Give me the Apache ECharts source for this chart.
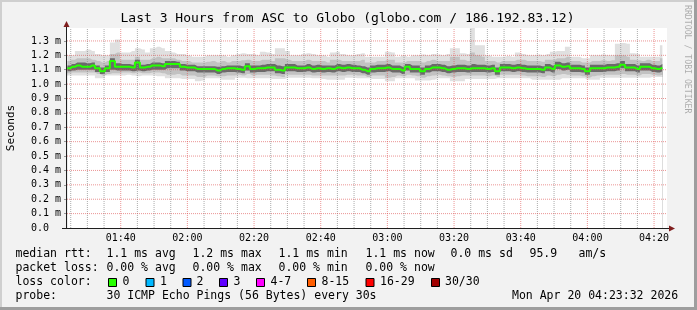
<!DOCTYPE html>
<html><head><meta charset="utf-8">
<script src="https://cdn.jsdelivr.net/npm/echarts@6/dist/echarts.min.js"></script>
<style>html,body{margin:0;padding:0;background:#f2f2f2}#c{width:697px;height:310px}</style>
</head><body><div id="c"></div><script>
// sample times: seconds after midnight, first sample 01:24:00, one every 90 s
const startSec = 5040, stepSec = 90;
const axisStartSec = 5033, axisSpanSec = 10800;
const yMax = 1.39;

const median = [1.11,1.12,1.13,1.12,1.12,1.13,1.11,1.09,1.11,1.16,
 1.12,1.12,1.12,1.115,1.15,1.115,1.12,1.13,1.13,1.125,
 1.14,1.14,1.14,1.12,1.115,1.115,1.105,1.105,1.105,1.105,
 1.095,1.105,1.11,1.11,1.105,1.10,1.125,1.105,1.11,1.11,
 1.115,1.115,1.10,1.095,1.115,1.115,1.11,1.11,1.115,1.105,
 1.11,1.105,1.11,1.105,1.115,1.11,1.115,1.11,1.11,1.10,
 1.09,1.105,1.11,1.11,1.115,1.105,1.105,1.095,1.12,1.105,
 1.105,1.09,1.105,1.115,1.115,1.11,1.10,1.105,1.11,1.11,
 1.105,1.11,1.11,1.11,1.105,1.11,1.09,1.115,1.115,1.11,
 1.115,1.11,1.105,1.105,1.105,1.10,1.115,1.105,1.13,1.12,
 1.125,1.11,1.11,1.105,1.09,1.11,1.11,1.11,1.115,1.115,
 1.12,1.135,1.115,1.115,1.105,1.12,1.12,1.11,1.105,1.115];

const hiOuter = [1.20,1.20,1.23,1.23,1.24,1.23,1.21,1.20,1.20,1.29,
 1.31,1.22,1.22,1.23,1.25,1.24,1.22,1.25,1.26,1.25,
 1.23,1.22,1.21,1.21,1.20,1.19,1.19,1.19,1.20,1.20,
 1.20,1.20,1.19,1.20,1.21,1.215,1.21,1.21,1.20,1.225,
 1.22,1.21,1.25,1.25,1.23,1.20,1.20,1.21,1.215,1.21,
 1.20,1.20,1.19,1.22,1.225,1.21,1.20,1.20,1.21,1.215,
 1.19,1.19,1.19,1.19,1.225,1.22,1.19,1.20,1.19,1.20,
 1.20,1.205,1.20,1.21,1.205,1.20,1.21,1.25,1.25,1.215,
 1.21,1.39,1.27,1.27,1.20,1.19,1.19,1.19,1.195,1.19,
 1.22,1.21,1.20,1.20,1.205,1.20,1.21,1.225,1.23,1.23,
 1.26,1.19,1.19,1.18,1.18,1.20,1.20,1.205,1.20,1.20,
 1.28,1.285,1.28,1.215,1.21,1.19,1.19,1.19,1.19,1.27];

const loOuter = [1.06,1.06,1.06,1.06,1.06,1.06,1.04,1.04,1.06,1.06,
 1.06,1.06,1.065,1.06,1.055,1.06,1.06,1.06,1.055,1.055,
 1.04,1.04,1.04,1.035,1.035,1.035,1.02,1.025,1.04,1.04,
 1.04,1.03,1.03,1.03,1.045,1.045,1.04,1.04,1.04,1.04,
 1.04,1.035,1.035,1.035,1.045,1.045,1.045,1.045,1.045,1.04,
 1.04,1.035,1.03,1.03,1.03,1.03,1.045,1.045,1.04,1.04,
 1.04,1.035,1.035,1.035,1.02,1.02,1.04,1.04,1.04,1.04,
 1.025,1.025,1.025,1.03,1.04,1.04,1.04,1.02,1.02,1.02,
 1.035,1.035,1.035,1.035,1.035,1.035,1.04,1.04,1.04,1.04,
 1.04,1.04,1.04,1.03,1.03,1.03,1.03,1.03,1.03,1.04,
 1.04,1.04,1.04,1.04,1.03,1.03,1.03,1.045,1.045,1.045,
 1.045,1.045,1.045,1.045,1.045,1.045,1.045,1.05,1.05,1.05];

const hiMid = [1.16,1.17,1.18,1.18,1.18,1.17,1.16,1.15,1.16,1.21,
 1.22,1.17,1.17,1.17,1.19,1.17,1.17,1.18,1.19,1.18,
 1.18,1.18,1.17,1.16,1.16,1.15,1.15,1.15,1.155,1.16,
 1.15,1.16,1.15,1.16,1.16,1.165,1.17,1.16,1.16,1.17,
 1.17,1.16,1.18,1.18,1.17,1.16,1.16,1.16,1.17,1.16,
 1.16,1.16,1.15,1.17,1.17,1.16,1.16,1.16,1.16,1.17,
 1.15,1.15,1.16,1.16,1.17,1.17,1.15,1.15,1.16,1.16,
 1.16,1.15,1.16,1.17,1.16,1.16,1.16,1.19,1.19,1.17,
 1.16,1.22,1.20,1.19,1.16,1.16,1.15,1.16,1.16,1.16,
 1.17,1.17,1.16,1.16,1.16,1.155,1.17,1.17,1.18,1.18,
 1.19,1.16,1.16,1.15,1.15,1.16,1.16,1.165,1.16,1.165,
 1.20,1.20,1.19,1.17,1.165,1.16,1.17,1.16,1.16,1.18];

const loMid = [1.075,1.08,1.08,1.08,1.08,1.08,1.07,1.06,1.07,1.075,
 1.075,1.08,1.08,1.075,1.08,1.075,1.075,1.08,1.08,1.075,
 1.065,1.065,1.07,1.06,1.06,1.06,1.05,1.05,1.06,1.06,
 1.055,1.055,1.06,1.06,1.065,1.06,1.07,1.06,1.065,1.065,
 1.065,1.06,1.055,1.05,1.065,1.065,1.065,1.065,1.065,1.06,
 1.06,1.06,1.06,1.06,1.06,1.06,1.065,1.065,1.06,1.06,
 1.05,1.06,1.06,1.06,1.045,1.05,1.06,1.055,1.065,1.06,
 1.055,1.045,1.055,1.06,1.065,1.06,1.055,1.05,1.055,1.06,
 1.06,1.06,1.06,1.06,1.055,1.06,1.05,1.065,1.065,1.065,
 1.065,1.06,1.055,1.055,1.055,1.05,1.06,1.055,1.065,1.07,
 1.065,1.06,1.06,1.055,1.045,1.055,1.06,1.065,1.065,1.065,
 1.065,1.07,1.065,1.065,1.06,1.07,1.07,1.065,1.06,1.065];

const hiCore = [1.13,1.14,1.15,1.15,1.145,1.15,1.13,1.115,1.13,1.18,
 1.145,1.14,1.14,1.135,1.17,1.135,1.14,1.15,1.15,1.145,
 1.16,1.16,1.155,1.14,1.135,1.135,1.125,1.125,1.125,1.125,
 1.12,1.125,1.13,1.13,1.13,1.125,1.145,1.13,1.13,1.135,
 1.14,1.14,1.13,1.125,1.14,1.14,1.13,1.13,1.14,1.13,
 1.135,1.13,1.13,1.13,1.14,1.135,1.14,1.135,1.13,1.125,
 1.115,1.13,1.135,1.135,1.14,1.13,1.13,1.12,1.14,1.13,
 1.13,1.115,1.13,1.14,1.14,1.135,1.125,1.13,1.135,1.135,
 1.13,1.14,1.135,1.135,1.13,1.135,1.115,1.14,1.14,1.135,
 1.14,1.135,1.13,1.13,1.13,1.125,1.14,1.13,1.155,1.145,
 1.15,1.135,1.135,1.13,1.115,1.135,1.135,1.135,1.14,1.14,
 1.145,1.16,1.14,1.14,1.13,1.145,1.145,1.135,1.13,1.14];

const loCore = [1.09,1.095,1.10,1.10,1.10,1.10,1.085,1.07,1.085,1.10,
 1.095,1.095,1.095,1.09,1.095,1.09,1.095,1.10,1.10,1.10,
 1.11,1.11,1.11,1.095,1.09,1.09,1.08,1.08,1.08,1.08,
 1.07,1.08,1.085,1.085,1.08,1.075,1.095,1.08,1.085,1.085,
 1.09,1.09,1.075,1.07,1.09,1.09,1.085,1.085,1.09,1.08,
 1.085,1.08,1.085,1.08,1.09,1.085,1.09,1.085,1.085,1.075,
 1.065,1.08,1.085,1.085,1.09,1.08,1.08,1.07,1.095,1.08,
 1.08,1.065,1.08,1.09,1.09,1.085,1.075,1.08,1.085,1.085,
 1.08,1.085,1.085,1.085,1.08,1.085,1.065,1.09,1.09,1.085,
 1.09,1.085,1.08,1.08,1.08,1.075,1.09,1.08,1.105,1.095,
 1.10,1.085,1.085,1.08,1.065,1.085,1.085,1.085,1.09,1.09,
 1.095,1.11,1.09,1.09,1.08,1.095,1.095,1.085,1.08,1.09];

const yTicks = [0,0.1,0.2,0.3,0.4,0.5,0.6,0.7,0.8,0.9,1.0,1.1,1.2,1.3];
const xMajorLabels = ['01:40','02:00','02:20','02:40','03:00','03:20','03:40','04:00','04:20'];
const minorStepSec = 300;

const titleText = 'Last 3 Hours from ASC to Globo (globo.com / 186.192.83.12)';
const rttRow = ['median rtt:', '1.1 ms avg', '1.2 ms max', '1.1 ms min', '1.1 ms now', '0.0 ms sd', '95.9', 'am/s'];
const lossRow = ['packet loss:', '0.00 % avg', '0.00 % max', '0.00 % min', '0.00 % now'];
const lossLabels = ['0', '1', '2', '3', '4-7', '8-15', '16-29', '30/30'];
const lossColors = ['#26ff00', '#00b8ff', '#0059ff', '#5e00ff', '#ff00ff', '#ff5e00', '#ff0000', '#a10000'];
const probeText = '30 ICMP Echo Pings (56 Bytes) every 30s';
const stampText = 'Mon Apr 20 04:23:32 2026';
const watermark = 'RRDTOOL / TOBI OETIKER';

// ---- build ----
const toSec = s => { const p = s.split(':'); return (+p[0]) * 3600 + (+p[1]) * 60; };
const fmt = v => { const h = Math.floor(v / 3600), m = Math.round((v % 3600) / 60); return String(h).padStart(2, '0') + ':' + String(m).padStart(2, '0'); };
const times = median.map((_, i) => startSec + i * stepSec);
const pair = arr => arr.map((v, i) => [times[i], v]);
const majorSec = xMajorLabels.map(toSec);
const axisEndSec = axisStartSec + axisSpanSec;
const minorSec = [];
for (let t = Math.ceil(axisStartSec / minorStepSec) * minorStepSec; t < axisEndSec; t += minorStepSec) minorSec.push(t);

const MONO = '"DejaVu Sans Mono", monospace';
const areaSeries = (arr, color, z) => ({
  type: 'line', data: pair(arr), step: 'middle', showSymbol: false, silent: true, z: z,
  lineStyle: { width: 0, opacity: 0 }, areaStyle: { color: color, opacity: 1 }, animation: false
});

// grid lines as line series (segments separated by gaps)
const vSegs = list => { const d = []; list.forEach(t => { d.push([t, 0], [t, yMax], '-'); }); return d; };
const hSegs = list => { const d = []; list.forEach(v => { d.push([axisStartSec, v], [axisEndSec, v], '-'); }); return d; };
const gridSeries = (data, color) => ({
  type: 'line', data: data, showSymbol: false, silent: true, z: 7, animation: false, connectNulls: false,
  lineStyle: { color: color, width: 1, type: [1, 1] }
});
const MINOR = 'rgba(143,143,143,0.75)', MAJOR = 'rgba(222,79,79,0.6)';

const T = (text, x, y, font, fill, align, extra) => Object.assign({
  type: 'text', x: x, y: y, silent: true,
  style: { text: text, font: font, fill: fill || '#000', align: align || 'left', textAlign: align || 'left', verticalAlign: 'middle', textVerticalAlign: 'middle' }
}, extra || {});

const legFont = '11.5px ' + MONO;
const graphics = [];
// frame
graphics.push({ type: 'rect', shape: { x: 0, y: 0, width: 697, height: 2 }, style: { fill: '#cfcfcf' }, silent: true });
graphics.push({ type: 'rect', shape: { x: 0, y: 0, width: 2, height: 310 }, style: { fill: '#cfcfcf' }, silent: true });
graphics.push({ type: 'rect', shape: { x: 0, y: 307, width: 697, height: 3 }, style: { fill: '#9e9e9e' }, silent: true });
graphics.push({ type: 'rect', shape: { x: 694, y: 0, width: 3, height: 310 }, style: { fill: '#9e9e9e' }, silent: true });
// title
graphics.push(T(titleText, 347.5, 19, '13px ' + MONO, '#000', 'center'));
// watermark
graphics.push(T(watermark, 687.5, 5, '8.2px ' + MONO, 'rgba(0,0,0,0.3)', 'left', { rotation: -Math.PI / 2 }));
// axes lines + arrows
graphics.push({ type: 'line', zlevel: 3, shape: { x1: 66.5, y1: 22, x2: 66.5, y2: 229 }, style: { stroke: '#1f1f1f', lineWidth: 1 }, silent: true, z: 20 });
graphics.push({ type: 'line', zlevel: 3, shape: { x1: 62, y1: 228.5, x2: 670, y2: 228.5 }, style: { stroke: '#1f1f1f', lineWidth: 1 }, silent: true, z: 20 });
graphics.push({ type: 'polygon', zlevel: 3, shape: { points: [[63.5, 27], [69.5, 27], [66.5, 21]] }, style: { fill: '#801f1f' }, silent: true, z: 21 });
graphics.push({ type: 'polygon', zlevel: 3, shape: { points: [[669, 225.5], [669, 231.5], [675, 228.5]] }, style: { fill: '#801f1f' }, silent: true, z: 21 });
// legend rows
const rttX = [15.5, 106.5, 192.5, 278.5, 365.5, 450.5, 529.5, 578.5];
rttRow.forEach((s, i) => graphics.push(T(s, rttX[i], 254.5, legFont)));
lossRow.forEach((s, i) => graphics.push(T(s, rttX[i], 268.5, legFont)));
graphics.push(T('loss color:', 15.5, 282, legFont));
const boxX = [108, 145.5, 182.5, 219, 256, 307, 365.5, 431];
const labX = [122.5, 160, 196.5, 233.5, 270.5, 321.5, 380, 445];
lossLabels.forEach((s, i) => {
  graphics.push({ type: 'rect', shape: { x: boxX[i] + 0.5, y: 278.5, width: 8, height: 8 }, style: { fill: lossColors[i], stroke: '#000', lineWidth: 1 }, silent: true });
  graphics.push(T(s, labX[i], 282, legFont));
});
graphics.push(T('probe:', 15.5, 296, legFont));
graphics.push(T(probeText, 106.5, 296, legFont));
graphics.push(T(stampText, 512, 296, legFont));

const chart = echarts.init(document.getElementById('c'), null, { renderer: 'canvas' });
chart.setOption({
  backgroundColor: '#f2f2f2',
  animation: false,
  grid: { left: 67, top: 28, width: 600, height: 200, show: true, backgroundColor: '#ffffff', borderWidth: 0,
    containLabel: false, outerBoundsMode: 'none' },
  xAxis: {
    type: 'value', min: axisStartSec, max: axisEndSec,
    axisLine: { show: false }, splitLine: { show: false },
    axisTick: { show: true, customValues: minorSec, length: 2, inside: true, lineStyle: { color: 'rgba(143,143,143,0.9)' } },
    axisLabel: { customValues: majorSec, formatter: fmt, margin: 5, color: '#000', fontFamily: MONO, fontSize: 10 }
  },
  yAxis: {
    type: 'value', min: 0, max: yMax,
    name: 'Seconds', nameLocation: 'middle', nameRotate: 90, nameGap: 50,
    nameTextStyle: { fontFamily: MONO, fontSize: 11, color: '#000' },
    axisLine: { show: false }, splitLine: { show: false },
    axisTick: { show: true, customValues: yTicks, length: 3, lineStyle: { color: 'rgba(143,143,143,0.9)' } },
    axisLabel: { customValues: yTicks, align: 'left', margin: 36, color: '#000', fontFamily: MONO, fontSize: 10,
      formatter: v => v === 0 ? '0.0' : v.toFixed(1) + ' m' }
  },
  series: [
    areaSeries(hiOuter, '#e0e0e0', 1),
    areaSeries(hiMid, '#c2c2c2', 2),
    areaSeries(hiCore, '#6a6a6a', 3),
    areaSeries(loCore, '#c2c2c2', 4),
    areaSeries(loMid, '#e0e0e0', 5),
    areaSeries(loOuter, '#ffffff', 6),
    gridSeries(vSegs(minorSec.filter(t => majorSec.indexOf(t) < 0)), MINOR),
    gridSeries(vSegs(majorSec), MAJOR),
    gridSeries(hSegs(yTicks.filter(v => v > 0)), MAJOR),
    { type: 'line', data: pair(median), step: 'middle', showSymbol: false, silent: true, z: 8, animation: false,
      lineStyle: { color: '#26ff00', width: 2 } }
  ],
  graphic: { elements: graphics }
});
</script></body></html>
